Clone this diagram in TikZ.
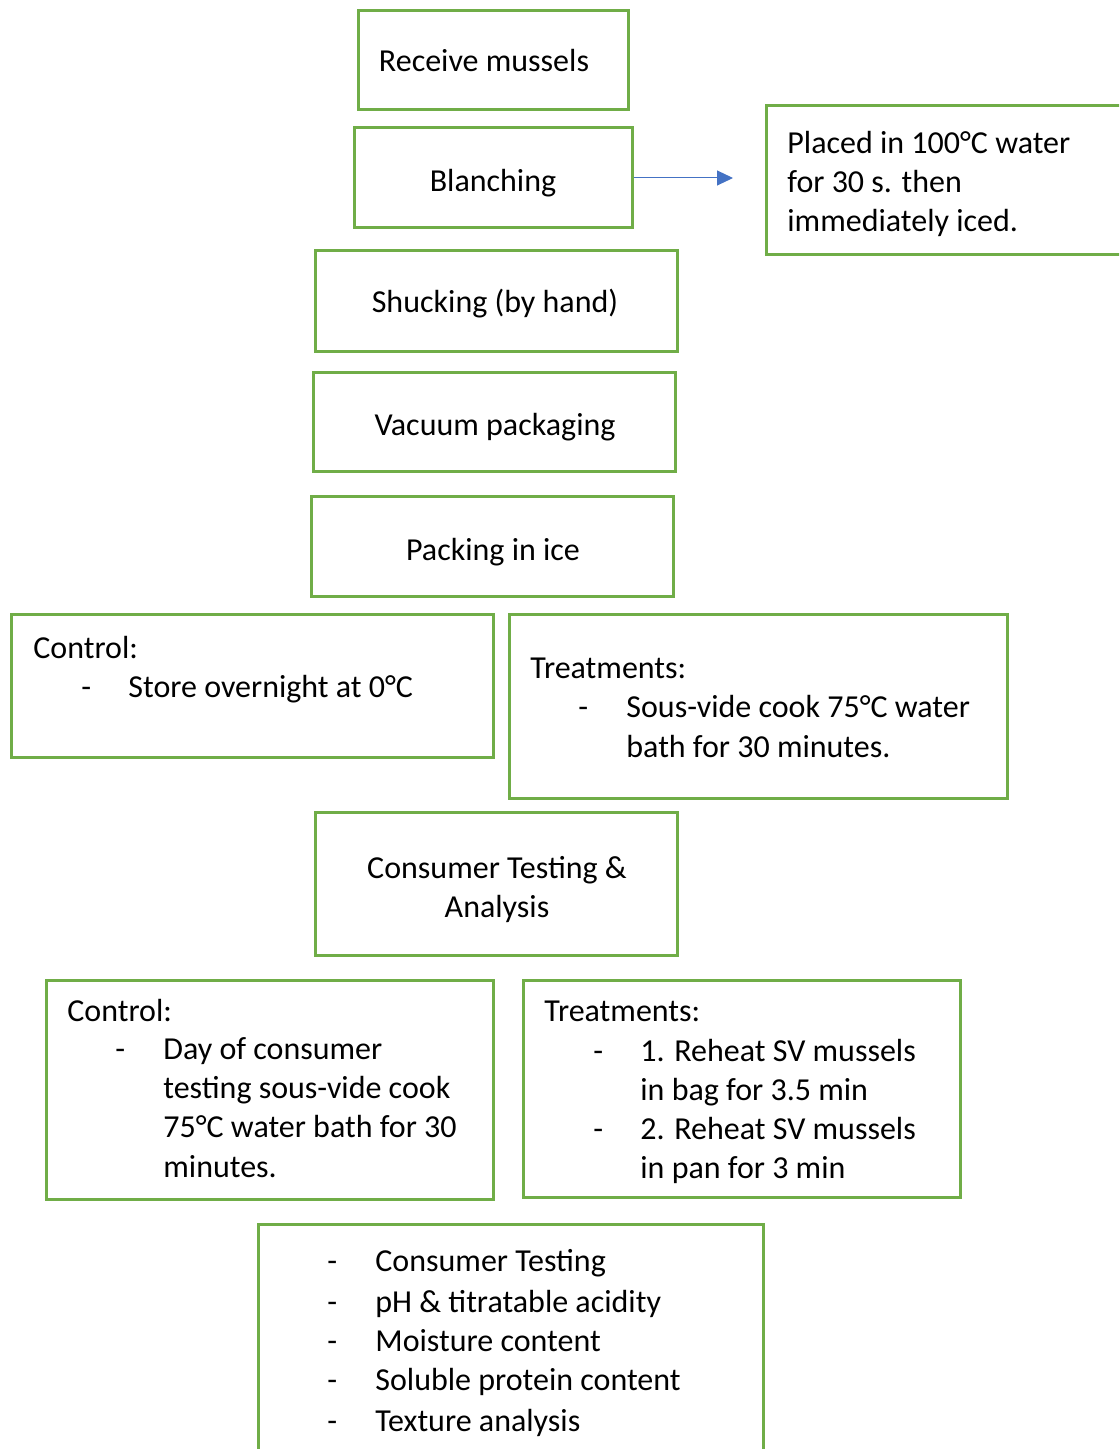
\documentclass[tikz,border=0pt]{standalone}
\usepackage{fontspec}
\setmainfont{Carlito}
\usetikzlibrary{fit,arrows.meta}
\definecolor{boxgreen}{HTML}{70AD47}
\definecolor{arrowblue}{HTML}{4472C4}
\begin{document}
\begin{tikzpicture}[x=0.5pt,y=-0.5pt,
  box/.style={draw=boxgreen, line width=1.5pt, inner sep=0pt},
  txt/.style={inner sep=0pt, anchor=base west, yshift=-0.5pt, font=\fontsize{16}{19.5}\selectfont},
  ctxt/.style={inner sep=0pt, anchor=base, yshift=-0.5pt, font=\fontsize{16}{19.5}\selectfont},
  flow/.style={draw=arrowblue, line width=0.5pt, -{Triangle[length=8pt,width=7.5pt]}}
]
\path[use as bounding box, clip] (0,0) rectangle (1119,1449);
% boxes
\node[box, fit={(358,11) (628,110)}] (recv) {};
\node[box, fit={(354,128) (632,228)}] (blanch) {};
\node[box, fit={(766,106) (1140,255)}] (placed) {};
\node[box, fit={(315,251) (677,351)}] (shuck) {};
\node[box, fit={(313,372) (675,471)}] (vac) {};
\node[box, fit={(311,496) (673,596)}] (ice) {};
\node[box, fit={(11,614) (493,757)}] (ctrlA) {};
\node[box, fit={(509,614) (1007,798)}] (treatA) {};
\node[box, fit={(315,812) (677,955)}] (consumer) {};
\node[box, fit={(46,980) (493,1199)}] (ctrlB) {};
\node[box, fit={(523,980) (960,1197)}] (treatB) {};
\node[box, fit={(258,1224) (763,1470)}] (analysis) {};
% connector
\coordinate (arrowend) at (733,178);
\draw[flow] (blanch.east) -- (arrowend);
% texts
\node[ctxt] (t1) at (484,71) {Receive mussels};
\node[ctxt] (t2) at (493,191) {Blanching};
\node[txt] (p1) at (787,153) {Placed in 100°C water};
\node[txt] (p2) at (787,192) {for 30 s. then};
\node[txt] (p3) at (787,231) {immediately iced.};
\node[ctxt] (t3) at (495,312) {Shucking (by hand)};
\node[ctxt] (t4) at (495,434) {Vacuum packaging};
\node[ctxt] (t5) at (493,559) {Packing in ice};
% control A
\node[txt] (ca0) at (33,657) {Control:};
\node[txt] (cad) at (81,696) {-};
\node[txt] (ca1) at (128,696) {Store overnight at 0°C};
% treatments A
\node[txt] (ta0) at (530,677) {Treatments:};
\node[txt] (tad) at (578,716) {-};
\node[txt] (ta1) at (626,716) {Sous-vide cook 75°C water};
\node[txt] (ta2) at (626,756) {bath for 30 minutes.};
% consumer
\node[ctxt] (c1) at (497,877) {Consumer Testing \&};
\node[ctxt] (c2) at (497,916) {Analysis};
% control B
\node[txt] (cb0) at (67,1020) {Control:};
\node[txt] (cbd) at (115,1058) {-};
\node[txt] (cb1) at (163,1058) {Day of consumer};
\node[txt] (cb2) at (163,1097) {testing sous-vide cook};
\node[txt] (cb3) at (163,1136) {75°C water bath for 30};
\node[txt] (cb4) at (163,1176) {minutes.};
% treatments B
\node[txt] (tb0) at (544,1020) {Treatments:};
\node[txt] (tbd1) at (593,1060) {-};
\node[txt] (tb1) at (640,1060) {1. Reheat SV mussels};
\node[txt] (tb2) at (640,1099) {in bag for 3.5 min};
\node[txt] (tbd2) at (593,1138) {-};
\node[txt] (tb3) at (640,1138) {2. Reheat SV mussels};
\node[txt] (tb4) at (640,1177) {in pan for 3 min};
% analysis
\node[txt] (ad1) at (327,1270) {-};
\node[txt] (a1) at (375,1270) {Consumer Testing};
\node[txt] (ad2) at (327,1311) {-};
\node[txt] (a2) at (375,1311) {pH \& titratable acidity};
\node[txt] (ad3) at (327,1350) {-};
\node[txt] (a3) at (375,1350) {Moisture content};
\node[txt] (ad4) at (327,1389) {-};
\node[txt] (a4) at (375,1389) {Soluble protein content};
\node[txt] (ad5) at (327,1430) {-};
\node[txt] (a5) at (375,1430) {Texture analysis};
\end{tikzpicture}
\end{document}
